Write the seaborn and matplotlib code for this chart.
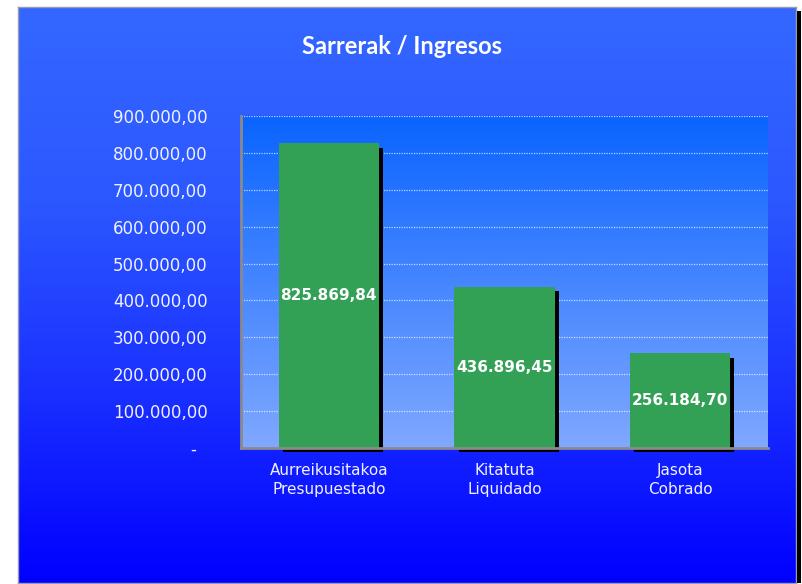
import numpy as np
import pandas as pd
import matplotlib
matplotlib.use("Agg")
import matplotlib.pyplot as plt
import matplotlib.patheffects as pe
from matplotlib.colors import LinearSegmentedColormap
from matplotlib.patches import Rectangle
import seaborn as sns

# ---- data ----
categories = ["Aurreikusitakoa\nPresupuestado", "Kitatuta\nLiquidado", "Jasota\nCobrado"]
values = [825869.84, 436896.45, 256184.70]
value_labels = ["825.869,84", "436.896,45", "256.184,70"]
title = "Sarrerak / Ingresos"
y_ticks = [0, 100000, 200000, 300000, 400000, 500000, 600000, 700000, 800000, 900000]

df = pd.DataFrame({"cat": categories, "val": values})

sns.set_theme(style="white")
plt.rcParams["font.family"] = ["DejaVu Sans"]

W, H = 803, 584
fig = plt.figure(figsize=(W / 100, H / 100), dpi=100, facecolor="white")

# outer blue panel with gradient and shadow
x0, y0, x1, y1 = 18, 7, 796, 583
shadow = Rectangle(((x1 + 1) / W, 1 - y1 / H), 4 / W, (y1 - y0 - 4) / H,
                   transform=fig.transFigure, facecolor="black", edgecolor="none", zorder=0)
fig.patches.append(shadow)
bg = fig.add_axes([x0 / W, 1 - y1 / H, (x1 - x0) / W, (y1 - y0) / H], zorder=0)
cmap_bg = LinearSegmentedColormap.from_list("bg", ["#3467ff", "#2c58ff", "#1a30ff", "#0000ff"])
bg.imshow(np.linspace(0, 1, 256).reshape(-1, 1), aspect="auto", cmap=cmap_bg,
          extent=[0, 1, 0, 1], origin="upper")
bg.set_xlim(0, 1); bg.set_ylim(0, 1)
for s in bg.spines.values():
    s.set_color("#9a9ab0"); s.set_linewidth(1)
bg.set_xticks([]); bg.set_yticks([])

# main plot axes
ax = fig.add_axes([241 / W, 1 - 448 / H, 527 / W, 332 / H], zorder=1)
ax.patch.set_alpha(0)
cmap_pl = LinearSegmentedColormap.from_list("pl", ["#0a64ff", "#80a8ff"])
ax.imshow(np.linspace(0, 1, 256).reshape(-1, 1), aspect="auto", cmap=cmap_pl,
          extent=[0, 1, 0, 1], origin="upper", transform=ax.transAxes, zorder=0)

sns.barplot(data=df, x="cat", y="val", color="#32a055", saturation=1, width=0.57,
            ax=ax, zorder=3)
for bar in ax.patches:
    bar.set_path_effects([pe.SimplePatchShadow(offset=(3, -3), shadow_rgbFace="black", alpha=1.0),
                          pe.Normal()])
    bar.set_clip_on(False)
    bar.set_edgecolor("none")

ax.set_xlim(-0.5, 2.5)
ax.set_ylim(0, 900000)
ax.set_yticks(y_ticks)

def fmt(v):
    if v == 0:
        return "-  "
    s = f"{v:,.2f}"
    return s.replace(",", "X").replace(".", ",").replace("X", ".")

ax.set_yticklabels([fmt(v) for v in y_ticks])
ax.yaxis.grid(True, color="white", linestyle=(0, (1, 1)), linewidth=0.9, alpha=0.7, zorder=1)
ax.set_axisbelow(True)
ax.tick_params(axis="y", length=0, pad=24, labelsize=12, labelcolor="#f0f0ff")
ax.tick_params(axis="x", length=0, pad=11, labelsize=11, labelcolor="#f0f0ff")
for lab in ax.get_xticklabels():
    lab.set_linespacing(1.35)
ax.set_xlabel("")
ax.set_ylabel("")
for side in ["top", "right"]:
    ax.spines[side].set_visible(False)
for side in ["left", "bottom"]:
    ax.spines[side].set_color("#8a8a8a")
    ax.spines[side].set_linewidth(2)
    ax.spines[side].set_zorder(5)

for i, (v, lab) in enumerate(zip(values, value_labels)):
    ax.text(i, v / 2, lab, ha="center", va="center", color="white",
            fontsize=11, fontweight="bold", zorder=6)

fig.text(402 / W, 1 - 47 / H, title, ha="center", va="center", color="white",
         fontsize=17, fontweight="bold", family=["Lato", "DejaVu Sans"])

fig.savefig("out.png", dpi=100, facecolor="white")
